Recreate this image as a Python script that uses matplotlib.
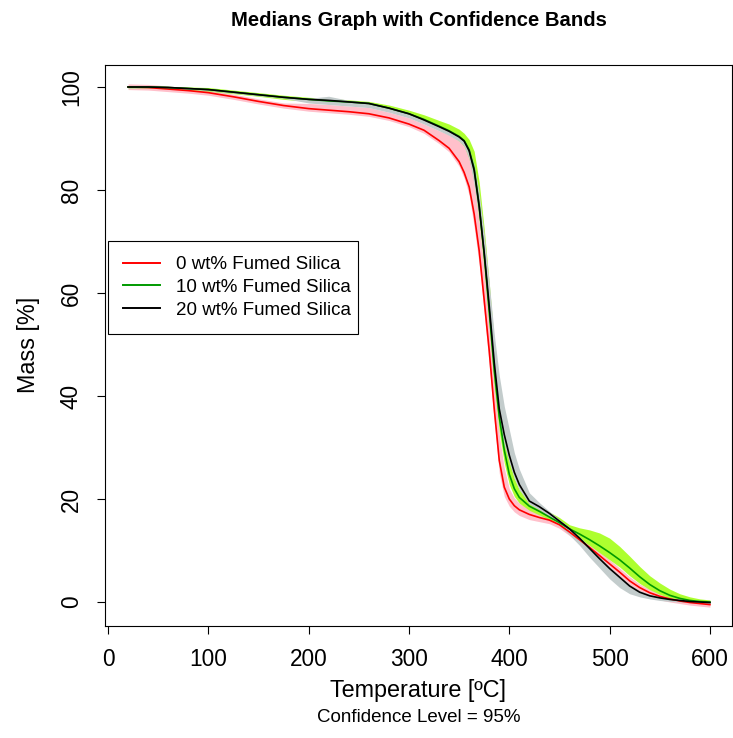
import matplotlib
matplotlib.use("Agg")
import matplotlib.pyplot as plt
from matplotlib.lines import Line2D

plt.rcParams['font.family'] = ['Liberation Sans', 'DejaVu Sans']

# Temperature grid [ºC]
temp = [20, 40, 60, 80, 100, 125, 150, 175, 200, 220, 240, 260, 280, 300, 315,
        330, 340, 350, 355, 360, 365, 370, 375, 380, 385, 390, 395, 400, 405,
        410, 420, 430, 440, 450, 460, 470, 480, 490, 500, 510, 520, 530, 540,
        550, 560, 570, 580, 590, 600]

# 0 wt% Fumed Silica
med0 = [100.0, 99.9, 99.6, 99.3, 98.9, 98.1, 97.2, 96.4, 95.8, 95.5, 95.2, 94.8,
        94.0, 92.8, 91.6, 89.6, 88.1, 85.5, 83.4, 80.6, 75.3, 68.2, 58.6, 48.8,
        37.5, 27.5, 22.3, 20.0, 18.7, 17.9, 17.0, 16.4, 15.9, 15.0, 13.6, 12.1,
        10.6, 9.0, 7.4, 5.8, 4.1, 2.8, 1.8, 1.1, 0.6, 0.2, -0.1, -0.3, -0.5]
lo0 = [99.5, 99.4, 99.1, 98.8, 98.4, 97.6, 96.7, 95.9, 95.3, 95.0, 94.7, 94.3,
       93.5, 92.3, 91.0, 89.0, 87.4, 84.6, 82.3, 79.0, 72.8, 65.5, 56.0, 46.0,
       35.0, 25.0, 20.5, 18.6, 17.5, 16.8, 16.0, 15.6, 15.2, 14.3, 12.9, 11.4,
       9.8, 8.2, 6.6, 4.9, 3.2, 1.9, 1.0, 0.4, 0.0, -0.3, -0.6, -0.8, -1.0]
hi0 = [100.6, 100.5, 100.2, 99.8, 99.4, 98.6, 97.7, 96.9, 96.8, 96.6, 96.3, 96.0,
       95.1, 94.0, 92.8, 91.5, 90.7, 89.5, 88.6, 86.5, 81.5, 74.0, 64.5, 54.0,
       43.0, 32.5, 26.0, 22.0, 20.2, 19.2, 18.0, 17.2, 16.5, 15.6, 14.3, 12.8,
       11.4, 9.8, 8.2, 6.6, 4.9, 3.5, 2.5, 1.7, 1.1, 0.6, 0.4, 0.2, 0.1]

# 10 wt% Fumed Silica
med10 = [100.0, 100.0, 99.9, 99.7, 99.5, 99.0, 98.5, 98.0, 97.6, 97.3, 97.1, 96.8,
         95.9, 94.8, 93.7, 92.4, 91.5, 90.4, 89.6, 87.8, 84.2, 77.0, 67.5, 56.5,
         45.0, 36.0, 29.5, 24.8, 22.0, 20.3, 18.6, 17.6, 16.5, 15.4, 14.2, 13.2,
         12.1, 10.9, 9.6, 8.2, 6.6, 4.9, 3.4, 2.2, 1.3, 0.7, 0.3, 0.1, 0.0]
lo10 = [99.8, 99.8, 99.7, 99.4, 99.2, 98.7, 98.2, 97.6, 97.2, 96.9, 96.7, 96.3,
        95.4, 94.3, 93.1, 91.8, 90.8, 89.5, 88.5, 86.0, 81.5, 74.0, 64.5, 53.5,
        42.0, 33.0, 27.0, 22.8, 20.5, 19.2, 17.8, 16.9, 16.0, 14.9, 13.6, 12.3,
        11.0, 9.6, 8.2, 6.8, 5.1, 3.6, 2.4, 1.5, 0.8, 0.3, 0.0, -0.1, -0.2]
hi10 = [100.2, 100.2, 100.1, 100.0, 99.9, 99.4, 98.9, 98.4, 98.0, 97.8, 97.5, 97.2,
        96.5, 95.5, 94.6, 93.5, 92.8, 91.8, 91.0, 89.8, 87.5, 81.5, 72.5, 62.0,
        50.5, 40.5, 33.0, 27.5, 24.0, 21.8, 19.5, 18.6, 17.5, 16.4, 15.0, 14.4,
        14.0, 13.4, 12.4, 10.8, 8.9, 6.9, 5.1, 3.7, 2.5, 1.6, 1.0, 0.6, 0.4]

# 20 wt% Fumed Silica
med20 = [100.0, 100.0, 99.9, 99.7, 99.5, 99.0, 98.5, 98.0, 97.6, 97.4, 97.1, 96.8,
         95.9, 94.8, 93.6, 92.3, 91.4, 90.3, 89.5, 87.6, 83.8, 76.8, 67.8, 57.5,
         46.5, 37.5, 32.5, 28.5, 25.2, 22.8, 19.6, 18.5, 17.2, 15.7, 14.2, 12.4,
         10.4, 8.4, 6.5, 4.8, 3.1, 1.9, 1.2, 0.8, 0.5, 0.3, 0.1, 0.0, -0.1]
lo20 = [99.8, 99.8, 99.7, 99.5, 99.3, 98.8, 98.3, 97.8, 96.9, 96.6, 96.3, 96.0,
        95.1, 94.0, 92.8, 91.5, 90.6, 89.5, 88.5, 86.0, 81.0, 74.5, 65.5, 55.0,
        44.5, 35.5, 30.5, 27.0, 24.0, 21.8, 19.0, 17.9, 16.6, 14.8, 13.0, 11.0,
        8.7, 6.6, 4.5, 2.8, 1.6, 1.0, 0.6, 0.3, 0.1, 0.0, -0.1, -0.2, -0.3]
hi20 = [100.2, 100.2, 100.1, 99.9, 99.7, 99.2, 98.7, 98.2, 97.8, 98.2, 97.4, 97.0,
        96.1, 95.0, 93.8, 92.5, 91.6, 90.5, 89.7, 88.0, 85.0, 79.5, 71.5, 62.0,
        52.0, 44.0, 38.0, 33.5, 29.0, 25.8, 21.2, 19.3, 17.6, 16.0, 14.5, 12.7,
        10.7, 8.8, 6.8, 5.1, 3.4, 2.2, 1.5, 1.1, 0.8, 0.6, 0.4, 0.3, 0.2]

labels = ["0 wt% Fumed Silica", "10 wt% Fumed Silica", "20 wt% Fumed Silica"]
line_colors = ["#FF0000", "#009A00", "#000000"]
band_colors = ["#FFC0CB", "#ADFF2F", "#C3CCCC"]

xticks = [0, 100, 200, 300, 400, 500, 600]
yticks = [0, 20, 40, 60, 80, 100]

fig = plt.figure(figsize=(7.33, 7.38), dpi=100)
ax = fig.add_axes([105 / 733, 1 - 626 / 738, 627 / 733, 561 / 738])

series = [(med0, lo0, hi0), (med10, lo10, hi10), (med20, lo20, hi20)]
for (m, lo, hi), bc in zip(series, band_colors):
    ax.fill_between(temp, lo, hi, color=bc, lw=0, zorder=1)
for (m, lo, hi), lc, lab in zip(series, line_colors, labels):
    ax.plot(temp, m, color=lc, lw=1.2, zorder=3, label=lab)

ax.set_xlim(-3.0, 622.0)
ax.set_ylim(-4.66, 104.27)
ax.set_xticks(xticks)
ax.set_yticks(yticks)
ax.set_xticklabels([str(v) for v in xticks])
ax.set_yticklabels([str(v) for v in yticks])
ax.tick_params(axis='both', direction='out', length=5.5, width=0.8,
               labelsize=16.3, pad=10.5, color='black')
for lab in ax.get_yticklabels():
    lab.set_rotation(90)
    lab.set_va('center')
for sp in ax.spines.values():
    sp.set_linewidth(0.8)
    sp.set_color('black')

handles = [Line2D([], [], color=c, lw=1.4) for c in line_colors]
leg = ax.legend(handles, labels, loc='upper left', mode='expand',
                bbox_to_anchor=(3 / 627, (626 - 331) / 561, 250 / 627, 90 / 561),
                borderaxespad=0,
                fontsize=13.5, handlelength=1.95, handletextpad=0.9,
                labelspacing=0.3, borderpad=0.8, fancybox=False, framealpha=1)
leg.get_frame().set_edgecolor('black')
leg.get_frame().set_linewidth(0.8)

fig.text(418.5 / 733, 1 - 20 / 738, "Medians Graph with Confidence Bands",
         ha='center', va='center', fontsize=14.6, fontweight='bold')
fig.text(418.5 / 733, 1 - 690 / 738, "Temperature [ºC]",
         ha='center', va='center', fontsize=16.8)
fig.text(418.5 / 733, 1 - 717 / 738, "Confidence Level = 95%",
         ha='center', va='center', fontsize=13.5)
fig.text(28 / 733, 1 - 345 / 738, "Mass [%]", rotation=90,
         ha='center', va='center', fontsize=16.8)

fig.savefig("out.png", dpi=100)
